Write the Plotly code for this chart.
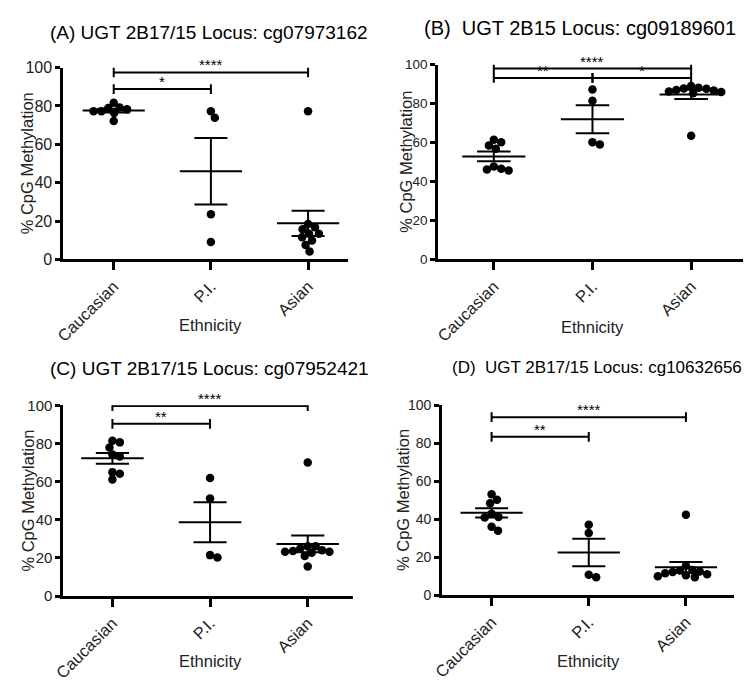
import numpy as np
import plotly.graph_objects as go

# ---------------- data ----------------
categories = ["Caucasian", "P.I.", "Asian"]
y_ticks = [0, 20, 40, 60, 80, 100]

titles = [
    "(A) UGT 2B17/15 Locus: cg07973162",
    "(B)\u00a0 UGT 2B15 Locus: cg09189601",
    "(C) UGT 2B17/15 Locus: cg07952421",
    "(D)\u00a0 UGT 2B17/15 Locus: cg10632656",
]

a_caucasian = [81.7, 77.2, 78.9, 72.1, 76.3, 78.3, 77.2, 79.2]
a_pi = [73.8, 77.2, 23.5, 9.1]
a_asian = [77.2, 13.4, 11.5, 16.8, 18.4, 9.8, 7.5, 13.4, 15.7, 4.1]

b_caucasian = [61.5, 58.5, 56.8, 60.2, 46.5, 45.7, 46.2, 47.7]
b_pi = [87.2, 81.5, 59.0, 60.2]
b_asian = [88.2, 87.6, 86.8, 86.0, 85.3, 86.2, 87.0, 87.8, 89.0, 63.5]

c_caucasian = [80.6, 81.5, 77.9, 74.3, 73.2, 65.0, 61.1, 64.1]
c_pi = [61.9, 51.2, 20.3, 21.5]
c_asian = [70.0, 26.2, 24.0, 23.3, 22.8, 21.1, 23.3, 23.6, 25.0, 26.2, 15.5]

d_caucasian = [53.2, 48.4, 50.3, 41.2, 40.9, 42.9, 34.0, 36.1]
d_pi = [37.1, 32.8, 9.4, 10.8]
d_asian = [42.4, 15.5, 13.2, 12.2, 11.0, 10.0, 9.5, 10.5, 11.5, 12.5, 13.0]

panel_data = [
    [a_caucasian, a_pi, a_asian],
    [b_caucasian, b_pi, b_asian],
    [c_caucasian, c_pi, c_asian],
    [d_caucasian, d_pi, d_asian],
]

# significance comparisons: (group from, group to, label, bracket level)
a_sig = [(0, 2, "****", 97.5), (0, 1, "*", 88.8)]
b_sig = [(0, 2, "****", 98.0), (0, 1, "**", 93.2), (1, 2, "*", 93.2)]
c_sig = [(0, 2, "****", 99.6), (0, 1, "**", 90.3)]
d_sig = [(0, 2, "****", 93.8), (0, 1, "**", 83.4)]
panel_sig = [a_sig, b_sig, c_sig, d_sig]

# ---------------- layout (pixels in the 752x683 page) ----------------
PAGE_W, PAGE_H = 752, 683
OFF = 8                      # default body margin of the html page
W, H = PAGE_W - OFF, PAGE_H - OFF

panels = [
    dict(x0=54, x1=343, y0=60, y1=257, xr=(-0.518, 2.416),
         title_xy=(202, 24), title_size=19, ytick_size=16,
         ytitle_x=18, xtitle_y=324),
    dict(x0=434, x1=743, y0=57, y1=257, xr=(-0.563, 2.527),
         title_xy=(578, 19), title_size=20, ytick_size=13.5,
         ytitle_x=401, xtitle_y=326),
    dict(x0=54, x1=348, y0=407, y1=603, xr=(-0.502, 2.468),
         title_xy=(202, 369), title_size=19, ytick_size=15,
         ytitle_x=18, xtitle_y=670),
    dict(x0=438, x1=734, y0=407, y1=602, xr=(-0.508, 2.497),
         title_xy=(595, 368), title_size=17, ytick_size=14,
         ytitle_x=399, xtitle_y=670),
]

FONT = "Liberation Sans, Arial, Helvetica, sans-serif"
MEAN_HW = 0.32
CAP_HW = 0.17
LW = 2


def px_x(v):
    return (v - OFF) / W


def px_y(v):
    return 1 - (v - OFF) / H


def swarm(values, ppu, ppc, diam=7.6):
    vals = np.asarray(values, float)
    order = np.argsort(-vals, kind="stable")
    placed = []
    offs = np.zeros(len(vals))
    for i in order:
        y = vals[i] * ppu
        chosen = None
        for k in range(0, 80):
            for sgn in ([0] if k == 0 else [1, -1]):
                x = sgn * k * 0.5
                if all((x - px) ** 2 + (y - py) ** 2 >= diam ** 2 for px, py in placed):
                    chosen = x
                    break
            if chosen is not None:
                break
        placed.append((chosen, y))
        offs[i] = chosen / ppc
    return offs


fig = go.Figure()
annotations = []
shapes = []

for p, (cfg, groups, sigs) in enumerate(zip(panels, panel_data, panel_sig)):
    sfx = "" if p == 0 else str(p + 1)
    xa, ya = "x" + sfx, "y" + sfx
    ppu = (cfg["y1"] - cfg["y0"]) / 100.0
    ppc = (cfg["x1"] - cfg["x0"]) / (cfg["xr"][1] - cfg["xr"][0])

    for g, vals in enumerate(groups):
        arr = np.asarray(vals, float)
        offs = swarm(arr, ppu, ppc)
        fig.add_trace(go.Scatter(
            x=g + offs, y=arr, mode="markers", xaxis=xa, yaxis=ya,
            marker=dict(color="black", size=8.5, line=dict(width=0)),
            showlegend=False, hoverinfo="skip", cliponaxis=False))
        m = arr.mean()
        sem = arr.std(ddof=1) / np.sqrt(len(arr))
        xs = [g - MEAN_HW, g + MEAN_HW, None,
              g - CAP_HW, g + CAP_HW, None,
              g - CAP_HW, g + CAP_HW, None,
              g, g]
        ys = [m, m, None, m + sem, m + sem, None, m - sem, m - sem, None,
              m - sem, m + sem]
        fig.add_trace(go.Scatter(
            x=xs, y=ys, mode="lines", xaxis=xa, yaxis=ya,
            line=dict(color="black", width=LW), showlegend=False,
            hoverinfo="skip", cliponaxis=False))

    # significance brackets
    tick_half = 5.0 / ppu
    for (g0, g1, lab, lev) in sigs:
        shapes.append(dict(type="line", xref=xa, yref=ya, x0=g0, x1=g1,
                           y0=lev, y1=lev, line=dict(color="black", width=LW)))
        for gx in (g0, g1):
            shapes.append(dict(type="line", xref=xa, yref=ya, x0=gx, x1=gx,
                               y0=lev - tick_half, y1=lev + tick_half,
                               line=dict(color="black", width=LW)))
        annotations.append(dict(x=(g0 + g1) / 2, y=lev, xref=xa, yref=ya,
                                text=lab, showarrow=False, yanchor="bottom",
                                yshift=-3, font=dict(family=FONT, size=15,
                                                     color="black")))

    # axes
    xd = [px_x(cfg["x0"]), px_x(cfg["x1"])]
    yd = [px_y(cfg["y1"]), px_y(cfg["y0"])]
    fig.update_layout(**{
        "xaxis" + sfx: dict(
            domain=xd, range=list(cfg["xr"]), anchor=ya,
            tickmode="array", tickvals=[0, 1, 2], ticktext=categories,
            tickangle=-45, ticks="outside", ticklen=8, tickwidth=2.5,
            tickcolor="black", showline=True, linewidth=3, linecolor="black",
            showgrid=False, zeroline=False,
            tickfont=dict(family=FONT, size=16.5, color="#222")),
        "yaxis" + sfx: dict(
            domain=yd, range=[0, 100], anchor=xa,
            tickmode="array", tickvals=y_ticks,
            ticks="outside", ticklen=5, tickwidth=2.5, tickcolor="black",
            showline=True, linewidth=3, linecolor="black",
            showgrid=False, zeroline=False,
            tickfont=dict(family=FONT, size=cfg["ytick_size"], color="#222")),
    })

    # titles
    tx, ty = cfg["title_xy"]
    annotations.append(dict(x=px_x(tx), y=px_y(ty), xref="paper", yref="paper",
                            text=titles[p], showarrow=False,
                            xanchor="center", yanchor="middle",
                            font=dict(family=FONT, size=cfg["title_size"],
                                      color="black")))
    annotations.append(dict(x=px_x(cfg["ytitle_x"]),
                            y=px_y((cfg["y0"] + cfg["y1"]) / 2),
                            xref="paper", yref="paper",
                            text="% CpG Methylation", textangle=-90,
                            showarrow=False, xanchor="center", yanchor="middle",
                            font=dict(family=FONT, size=16.5, color="#222")))
    annotations.append(dict(x=px_x(cfg["x0"] + (1 - cfg["xr"][0]) * ppc),
                            y=px_y(cfg["xtitle_y"]),
                            xref="paper", yref="paper", text="Ethnicity",
                            showarrow=False, xanchor="center", yanchor="middle",
                            font=dict(family=FONT, size=16.5, color="#222")))

fig.update_layout(width=W, height=H, margin=dict(l=0, r=0, t=0, b=0),
                  paper_bgcolor="white", plot_bgcolor="white",
                  annotations=annotations, shapes=shapes, showlegend=False)

fig.write_html("out.html")
